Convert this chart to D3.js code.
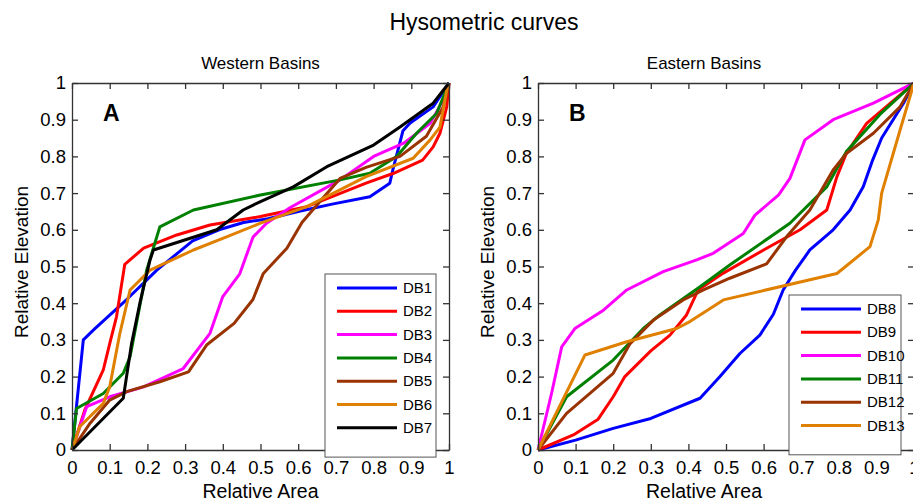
<!DOCTYPE html>
<html>
<head>
<meta charset="utf-8">
<script src="https://cdn.jsdelivr.net/npm/d3@7"></script>
<style>
  body { margin: 0; background: #fff; }
  svg { font-family: "Liberation Sans", Arial, sans-serif; }
</style>
</head>
<body>
<div id="chart"></div>
<script>
// tick values shared by both panels
const ticks = [0, 0.1, 0.2, 0.3, 0.4, 0.5, 0.6, 0.7, 0.8, 0.9, 1];

// Western basins (relative area, relative elevation)
const db1 = [[0,0],[0.03,0.30],[0.06,0.33],[0.145,0.41],[0.225,0.49],[0.32,0.57],[0.39,0.60],[0.455,0.62],[0.52,0.63],[0.60,0.65],[0.69,0.67],[0.79,0.69],[0.843,0.727],[0.851,0.763],[0.878,0.87],[0.897,0.891],[0.958,0.935],[1,1]];
const db2 = [[0,0],[0.034,0.109],[0.083,0.218],[0.1,0.29],[0.118,0.363],[0.14,0.506],[0.19,0.55],[0.278,0.586],[0.366,0.613],[0.5,0.636],[0.623,0.663],[0.78,0.727],[0.853,0.754],[0.93,0.79],[0.958,0.826],[0.976,0.863],[0.994,0.935],[1,1]];
const db3 = [[0,0],[0.039,0.118],[0.1,0.145],[0.19,0.172],[0.295,0.222],[0.366,0.318],[0.40,0.418],[0.445,0.48],[0.48,0.58],[0.516,0.618],[0.578,0.66],[0.711,0.736],[0.8,0.8],[0.88,0.836],[0.95,0.89],[0.985,0.954],[1,1]];
const db4 = [[0,0],[0.012,0.113],[0.083,0.154],[0.136,0.209],[0.154,0.254],[0.198,0.49],[0.233,0.608],[0.322,0.654],[0.5,0.695],[0.711,0.736],[0.79,0.754],[0.861,0.8],[0.914,0.863],[0.967,0.917],[1,1]];
const db5 = [[0,0],[0.048,0.073],[0.1,0.136],[0.145,0.159],[0.233,0.186],[0.309,0.213],[0.357,0.286],[0.43,0.345],[0.48,0.41],[0.507,0.48],[0.57,0.55],[0.61,0.62],[0.66,0.68],[0.711,0.74],[0.78,0.77],[0.87,0.80],[0.94,0.855],[0.985,0.935],[1,1]];
const db6 = [[0,0],[0.021,0.064],[0.083,0.127],[0.1,0.172],[0.127,0.318],[0.154,0.436],[0.207,0.49],[0.322,0.545],[0.41,0.581],[0.5,0.618],[0.623,0.663],[0.78,0.745],[0.905,0.795],[0.95,0.845],[0.976,0.88],[0.994,0.98],[1,1]];
const db7 = [[0,0],[0.136,0.141],[0.158,0.29],[0.18,0.40],[0.207,0.518],[0.216,0.545],[0.384,0.60],[0.454,0.654],[0.5,0.677],[0.587,0.717],[0.676,0.772],[0.8,0.831],[0.87,0.88],[0.958,0.945],[1,1]];

// Eastern basins
const db8 = [[0,0],[0.1,0.027],[0.2,0.059],[0.3,0.086],[0.431,0.141],[0.484,0.2],[0.537,0.263],[0.59,0.313],[0.626,0.37],[0.652,0.436],[0.685,0.49],[0.723,0.545],[0.785,0.6],[0.83,0.654],[0.865,0.717],[0.89,0.79],[0.914,0.85],[0.972,0.945],[1,1]];
const db9 = [[0,0],[0.094,0.041],[0.16,0.084],[0.2,0.145],[0.231,0.2],[0.3,0.27],[0.351,0.313],[0.395,0.368],[0.426,0.436],[0.493,0.482],[0.6,0.545],[0.697,0.6],[0.768,0.654],[0.795,0.745],[0.82,0.808],[0.874,0.89],[1,1]];
const db10 = [[0,0],[0.036,0.154],[0.063,0.281],[0.098,0.331],[0.174,0.381],[0.236,0.436],[0.333,0.486],[0.422,0.518],[0.466,0.536],[0.546,0.59],[0.577,0.64],[0.64,0.695],[0.67,0.74],[0.71,0.845],[0.785,0.9],[0.892,0.945],[1,1]];
const db11 = [[0,0],[0.076,0.145],[0.2,0.245],[0.28,0.331],[0.324,0.368],[0.431,0.445],[0.51,0.504],[0.67,0.618],[0.768,0.717],[0.82,0.813],[0.91,0.915],[1,1]];
const db12 = [[0,0],[0.076,0.1],[0.2,0.209],[0.245,0.29],[0.307,0.354],[0.386,0.409],[0.44,0.436],[0.51,0.468],[0.608,0.507],[0.661,0.581],[0.723,0.654],[0.785,0.763],[0.82,0.808],[0.892,0.863],[0.963,0.935],[1,1]];
const db13 = [[0,0],[0.125,0.259],[0.236,0.295],[0.369,0.331],[0.404,0.35],[0.493,0.409],[0.795,0.481],[0.883,0.554],[0.905,0.627],[0.914,0.70],[0.963,0.872],[1,1]];

const westNames = ["DB1", "DB2", "DB3", "DB4", "DB5", "DB6", "DB7"];
const westColors = ["#0000ff", "#ff0000", "#ff00ff", "#008000", "#993300", "#e08000", "#000000"];
const eastNames = ["DB8", "DB9", "DB10", "DB11", "DB12", "DB13"];
const eastColors = ["#0000ff", "#ff0000", "#ff00ff", "#008000", "#993300", "#e08000"];

const W = 913, H = 503;

const svg = d3.select("#chart")
  .append("svg")
  .attr("width", W)
  .attr("height", H);

svg.append("text")
  .attr("x", 484).attr("y", 30)
  .attr("text-anchor", "middle")
  .style("font-size", "23px")
  .text("Hysometric curves");

function panel(opts) {
  var x = d3.scaleLinear().domain([0, 1]).range([opts.left, opts.right]);
  var y = d3.scaleLinear().domain([0, 1]).range([450, 83]);
  var g = svg.append("g");

  // subtitle
  g.append("text")
    .attr("x", (opts.left + opts.right) / 2 + opts.subDx)
    .attr("y", 69)
    .attr("text-anchor", "middle")
    .style("font-size", "17px")
    .text(opts.sub);

  // curves
  var line = d3.line().x(d => x(d[0])).y(d => y(d[1]));
  opts.series.forEach(function(s, i) {
    g.append("path")
      .datum(s)
      .attr("fill", "none")
      .attr("stroke", opts.colors[i])
      .attr("stroke-width", 3)
      .attr("stroke-linejoin", "round")
      .attr("d", line);
  });

  // box axes, ticks pointing in
  var bottom = g.append("g").attr("transform", "translate(0,450)")
    .call(d3.axisBottom(x).tickValues(ticks).tickSize(-6).tickSizeOuter(0).tickPadding(7).tickFormat(d => d));
  var left = g.append("g").attr("transform", "translate(" + opts.left + ",0)")
    .call(d3.axisLeft(y).tickValues(ticks).tickSize(-6).tickSizeOuter(0).tickPadding(6).tickFormat(d => d));
  var top = g.append("g").attr("transform", "translate(0,83)")
    .call(d3.axisTop(x).tickValues(ticks).tickSize(-6).tickSizeOuter(0).tickFormat(""));
  var right = g.append("g").attr("transform", "translate(" + opts.right + ",0)")
    .call(d3.axisRight(y).tickValues(ticks).tickSize(-6).tickSizeOuter(0).tickFormat(""));
  [bottom, left, top, right].forEach(function(a) {
    a.selectAll("path, line").attr("stroke", "#333").attr("stroke-width", 1.3);
    a.selectAll("text").attr("fill", "#000").style("font-size", "18.5px").style("font-family", "Liberation Sans, Arial, sans-serif");
  });
  bottom.selectAll("text").attr("dy", "0.9em");

  // axis titles
  g.append("text")
    .attr("x", (opts.left + opts.right) / 2 + opts.subDx)
    .attr("y", 498)
    .attr("text-anchor", "middle")
    .style("font-size", "19.5px")
    .text("Relative Area");
  g.append("text")
    .attr("transform", "translate(" + (opts.left - 44) + ",262) rotate(-90)")
    .attr("text-anchor", "middle")
    .style("font-size", "19px")
    .text("Relative Elevation");

  // panel letter
  g.append("text")
    .attr("x", opts.left + 31).attr("y", 121)
    .style("font-size", "23px")
    .style("font-weight", "bold")
    .text(opts.letter);

  // legend
  var lg = g.append("g");
  var lh = 23.3;
  lg.append("rect")
    .attr("x", opts.legX).attr("y", opts.legY)
    .attr("width", opts.legW).attr("height", opts.names.length * lh + 20)
    .attr("fill", "#fff")
    .attr("stroke", "#555")
    .attr("stroke-width", 1);
  opts.names.forEach(function(n, i) {
    var yy = opts.legY + 14 + i * lh;
    lg.append("line")
      .attr("x1", opts.legX + 12).attr("x2", opts.legX + 72)
      .attr("y1", yy).attr("y2", yy)
      .attr("stroke", opts.colors[i])
      .attr("stroke-width", 3);
    lg.append("text")
      .attr("x", opts.legX + 78).attr("y", yy + 5)
      .style("font-size", "15px")
      .text(n);
  });
}

panel({
  left: 72, right: 449, sub: "Western Basins", subDx: 0, letter: "A",
  series: [db1, db2, db3, db4, db5, db6, db7],
  names: westNames, colors: westColors,
  legX: 325, legY: 274, legW: 111
});

panel({
  left: 538, right: 914, sub: "Eastern Basins", subDx: -22, letter: "B",
  series: [db8, db9, db10, db11, db12, db13],
  names: eastNames, colors: eastColors,
  legX: 789, legY: 295, legW: 112
});
</script>
</body>
</html>
